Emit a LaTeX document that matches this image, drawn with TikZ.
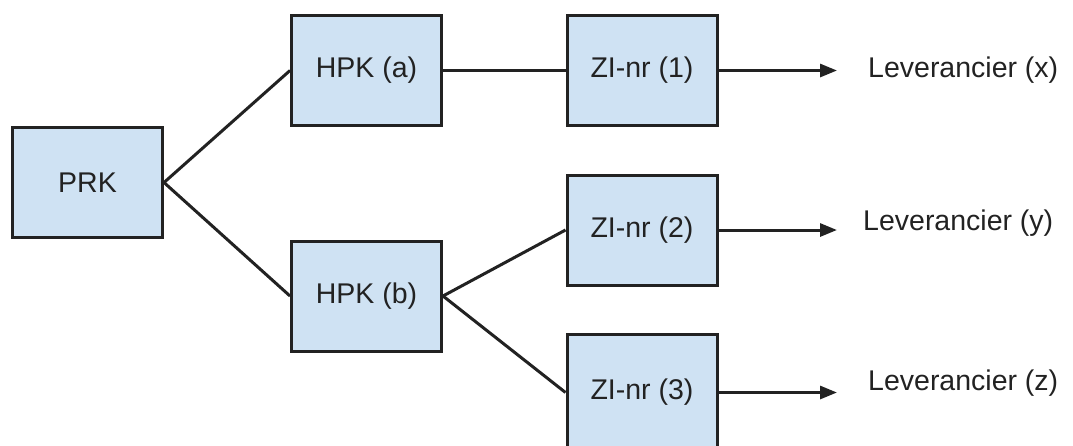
\documentclass[tikz,border=0pt]{standalone}
\usepackage{fontspec}
\setmainfont{Liberation Sans}
\usetikzlibrary{arrows.meta}
\definecolor{boxblue}{HTML}{CFE2F3}
\definecolor{ink}{HTML}{222222}
\tikzset{
  box/.style={draw=ink, line width=3pt, fill=boxblue, minimum width=150pt, minimum height=110pt, inner sep=0pt},
  lev/.style={anchor=west, inner sep=0pt},
  link/.style={draw=ink, line width=3pt},
  pijl/.style={link, -{Triangle[length=17pt, width=13pt]}}
}
\begin{document}
\begin{tikzpicture}[x=1pt, y=-1pt, every node/.style={font=\fontsize{28.5}{34}\selectfont, text=ink}]
    \useasboundingbox (0,0) rectangle (1073,445);

    % Hoofdknooppunt
    \node[box] (prk) at (87.5,182.5) {PRK};

    % HPK-niveau
    \node[box] (hpka) at (366.5,70.5) {HPK (a)};
    \node[box] (hpkb) at (366.5,296) {HPK (b)};

    % ZI-niveau (onderste vak loopt buiten de rand)
    \node[box] (zi1) at (642,70.5) {ZI-nr (1)};
    \node[box] (zi2) at (642,230) {ZI-nr (2)};
    \node[box, minimum height=116pt] (zi3) at (642,392.5) {ZI-nr (3)};

    % Leveranciers
    \node[lev] (levx) at (868,70) {Leverancier (x)};
    \node[lev] (levy) at (863,223) {Leverancier (y)};
    \node[lev] (levz) at (868,383) {Leverancier (z)};

    % Verbindingen
    \draw[link] (prk.east) -- (hpka.west);
    \draw[link] (prk.east) -- (hpkb.west);
    \draw[link] (hpka.east) -- (zi1.west);
    \draw[link] (hpkb.east) -- (zi2.west);
    \draw[link] (hpkb.east) -- (zi3.west);

    % Pijlen naar leveranciers
    \draw[pijl, shorten >=31pt] (zi1.east) -- (zi1.east -| levx.west);
    \draw[pijl, shorten >=26pt] (zi2.east) -- (zi2.east -| levy.west);
    \draw[pijl, shorten >=31pt] (zi3.east) -- (zi3.east -| levz.west);
\end{tikzpicture}
\end{document}
